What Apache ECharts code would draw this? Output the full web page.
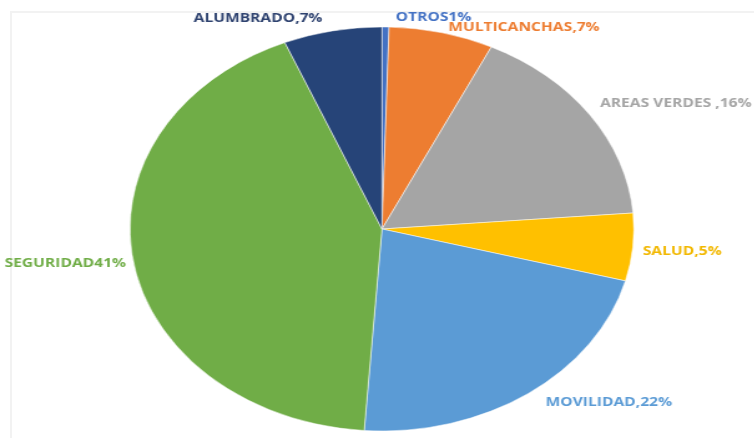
<!DOCTYPE html>
<html>
<head>
<meta charset="utf-8">
<script src="https://cdn.jsdelivr.net/npm/echarts@6/dist/echarts.min.js"></script>
<style>
  html, body { margin: 0; padding: 0; background: #ffffff; overflow: hidden; }
  #wrap { position: relative; width: 754px; height: 438px; overflow: hidden; }
  #chart { position: absolute; left: 0; top: 0; width: 605px; height: 438px;
           transform: scaleX(1.247); transform-origin: 0 0; }
  #frame { position: absolute; left: 10px; top: 11px; right: -5px; bottom: -5px;
           border-top: 2px solid #f2f2f2; border-left: 2px solid #f2f2f2; pointer-events: none; }
</style>
</head>
<body>
<div id="wrap">
  <div id="frame"></div>
  <div id="chart"></div>
</div>
<script>
// Data (clockwise from 12 o'clock)
const categories = ['OTROS', 'MULTICANCHAS', 'AREAS VERDES', 'SALUD', 'MOVILIDAD', 'SEGURIDAD', 'ALUMBRADO'];
// slice sizes as drawn in the picture (share of the pie, %)
const values = [0.45, 6.7, 16.6, 5.4, 22, 42.6, 6.3];
// percentages as printed in the labels
const labelPercents = [1, 7, 16, 5, 22, 41, 7];
const separators = ['', ',', ' ,', ',', ',', '', ','];

// Styling
const colors = ['#4472C4', '#ED7D31', '#A5A5A5', '#FFC000', '#5B9BD5', '#70AD47', '#264478'];
const labelColors = ['#4472C4', '#ED7D31', '#A5A5A5', '#F2B800', '#5B9BD5', '#70AD47', '#2F4370'];
const labelShift = [[3, 0], [-2, 4], [-5, -6], [-7, 3], [3, 1], [9, 0], [-1, -3]];

const chart = echarts.init(document.getElementById('chart'), null, { renderer: 'canvas' });

const data = categories.map((c, i) => ({
  name: c,
  value: values[i],
  itemStyle: { color: colors[i] },
  label: { color: labelColors[i] }
}));

chart.setOption({
  animation: false,
  backgroundColor: 'transparent',
  series: [{
    type: 'pie',
    center: [306.3, 229],
    radius: [0, 202],
    startAngle: 90,
    clockwise: true,
    avoidLabelOverlap: false,
    data: data,
    itemStyle: { borderColor: '#ffffff', borderWidth: 0.5 },
    label: {
      show: true,
      position: 'outside',
      fontFamily: 'Open Sans',
      fontWeight: 'bold',
      fontSize: 12.5,
      formatter: (p) => p.name + separators[p.dataIndex] + labelPercents[p.dataIndex] + '%'
    },
    labelLine: { show: false, length: 10, length2: 0 },
    labelLayout: (p) => ({ dx: labelShift[p.dataIndex][0], dy: labelShift[p.dataIndex][1] }),
    emphasis: { disabled: true }
  }]
});
</script>
</body>
</html>
